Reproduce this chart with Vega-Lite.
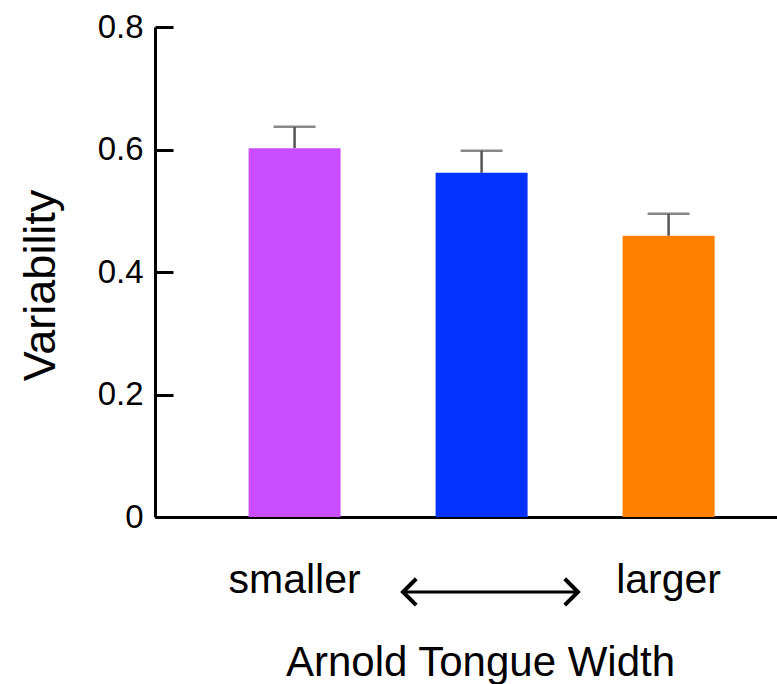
{
  "$schema": "https://vega.github.io/schema/vega-lite/v6.json",
  "width": 622,
  "height": 490,
  "autosize": "none",
  "padding": {"left": 155, "top": 27, "right": 0, "bottom": 167},
  "background": "white",
  "config": {"view": {"stroke": null}, "font": "Liberation Sans"},
  "datasets": {
    "bars": [
      {"group": "smaller", "variability": 0.602, "upper": 0.637, "color": "#C94DFF"},
      {"group": "middle", "variability": 0.562, "upper": 0.598, "color": "#0432FF"},
      {"group": "larger", "variability": 0.459, "upper": 0.495, "color": "#FF7F00"}
    ],
    "arrow": [{"x0": 0.3987, "x1": 0.68, "y": -0.1224}]
  },
  "layer": [
    {
      "data": {"name": "bars"},
      "encoding": {
        "x": {
          "field": "group",
          "type": "nominal",
          "sort": ["smaller", "middle", "larger"],
          "scale": {"paddingInner": 0.508, "paddingOuter": 0.417, "align": 0.6},
          "axis": {
            "title": "Arnold Tongue Width",
            "titleFontSize": 42,
            "titleFontWeight": "normal",
            "titleColor": "black",
            "titlePadding": 42,
            "titleX": 325,
            "labelExpr": "datum.value == 'middle' ? '' : datum.value",
            "labelFontSize": 41,
            "labelColor": "black",
            "labelAngle": 0,
            "labelPadding": 43,
            "ticks": false,
            "domainColor": "black",
            "domainWidth": 3
          }
        }
      },
      "layer": [
        {
          "mark": {"type": "rule", "color": "#555555", "strokeWidth": 2.5},
          "encoding": {
            "y": {"field": "variability", "type": "quantitative", "scale": {"domain": [0, 0.8], "nice": false}},
            "y2": {"field": "upper"}
          }
        },
        {
          "mark": {"type": "bar"},
          "encoding": {
            "y": {
              "field": "variability",
              "type": "quantitative",
              "scale": {"domain": [0, 0.8], "nice": false},
              "axis": {
                "title": "Variability",
                "titleFontSize": 45,
                "titleFontWeight": "normal",
                "titleColor": "black",
                "titlePadding": 34,
                "titleY": 258,
                "values": [0, 0.2, 0.4, 0.6, 0.8],
                "format": ".1~f",
                "labelFontSize": 33,
                "labelColor": "black",
                "labelPadding": 30,
                "tickSize": -18,
                "tickWidth": 3,
                "tickColor": "black",
                "domainColor": "black",
                "domainWidth": 3,
                "grid": false
              }
            },
            "color": {"field": "color", "type": "nominal", "scale": null}
          }
        },
        {
          "mark": {"type": "tick", "color": "#555555", "thickness": 2.5, "size": 42},
          "encoding": {
            "y": {"field": "upper", "type": "quantitative", "scale": {"domain": [0, 0.8], "nice": false}}
          }
        }
      ]
    },
    {
      "data": {"name": "arrow"},
      "encoding": {
        "y": {"field": "y", "type": "quantitative", "scale": {"domain": [0, 0.8], "nice": false}}
      },
      "layer": [
        {
          "mark": {"type": "rule", "color": "black", "strokeWidth": 3},
          "encoding": {
            "x": {"field": "x0", "type": "quantitative", "scale": {"domain": [0, 1]}, "axis": null},
            "x2": {"field": "x1"}
          }
        },
        {
          "mark": {"type": "point", "shape": "M 1 -1 L 0 0 L 1 1", "size": 700, "filled": false, "stroke": "black", "strokeWidth": 4, "opacity": 1},
          "encoding": {
            "x": {"field": "x0", "type": "quantitative", "scale": {"domain": [0, 1]}, "axis": null}
          }
        },
        {
          "mark": {"type": "point", "shape": "M -1 -1 L 0 0 L -1 1", "size": 700, "filled": false, "stroke": "black", "strokeWidth": 4, "opacity": 1},
          "encoding": {
            "x": {"field": "x1", "type": "quantitative", "scale": {"domain": [0, 1]}, "axis": null}
          }
        }
      ]
    }
  ],
  "resolve": {"scale": {"x": "independent"}}
}
